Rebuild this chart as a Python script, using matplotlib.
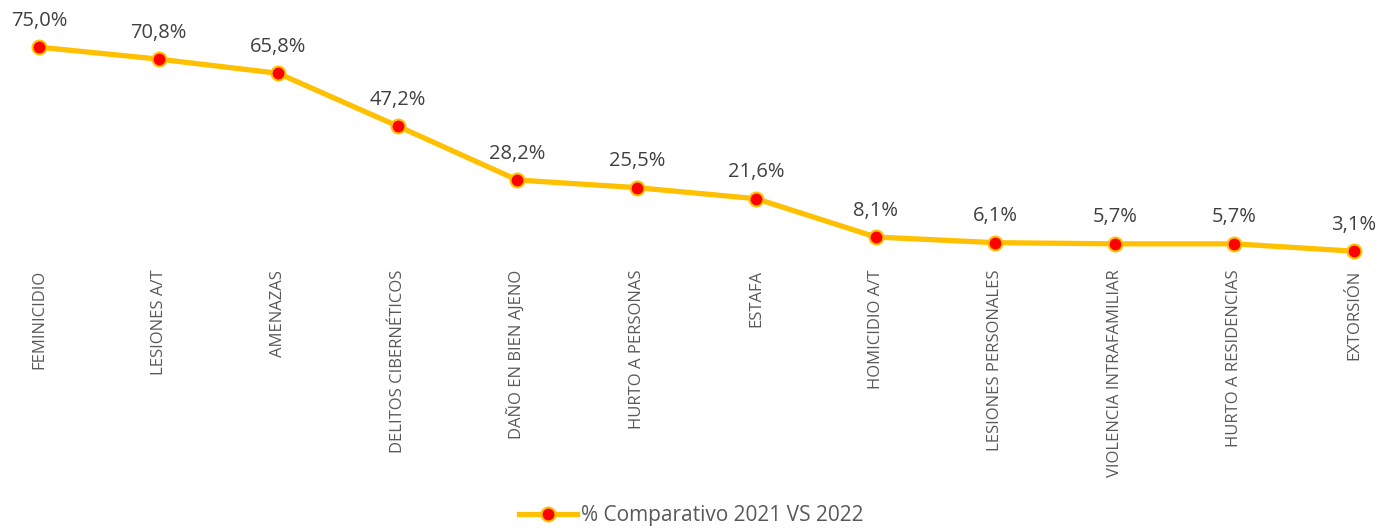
import matplotlib.pyplot as plt

categories = ['FEMINICIDIO', 'LESIONES A/T', 'AMENAZAS', 'DELITOS CIBERNÉTICOS',
              'DAÑO EN BIEN AJENO', 'HURTO A PERSONAS', 'ESTAFA', 'HOMICIDIO A/T',
              'LESIONES PERSONALES', 'VIOLENCIA INTRAFAMILIAR', 'HURTO A RESIDENCIAS',
              'EXTORSIÓN']
values = [75.0, 70.8, 65.8, 47.2, 28.2, 25.5, 21.6, 8.1, 6.1, 5.7, 5.7, 3.1]
series_name = '% Comparativo 2021 VS 2022'

plt.rcParams['font.family'] = ['Open Sans', 'DejaVu Sans']

W, H = 1382, 529
fig = plt.figure(figsize=(W / 100, H / 100), dpi=100)
ax = fig.add_axes([39 / W, (H - 260) / H, (1354 - 39) / W, (260 - 33) / H])

x = list(range(len(categories)))
line, = ax.plot(x, values, color='#FFC000', lw=3.8, marker='o', ms=10,
                mfc='#FF0000', mec='#FFC000', mew=1.5, clip_on=False,
                label=series_name, zorder=3)

for xi, v in zip(x, values):
    ax.annotate(f'{v:.1f}%'.replace('.', ','), (xi, v), xytext=(0, 19),
                textcoords='offset points', ha='center', va='center',
                fontsize=14.5, color='#404040')

ax.set_xlim(0, len(categories) - 1)
ax.set_ylim(0, 80)
ax.set_xticks(x)
ax.set_xticklabels(categories, rotation=90, fontsize=12, color='#595959',
                   va='top', ha='center')
ax.tick_params(axis='x', length=0, pad=7)
ax.set_yticks([])
for s in ax.spines.values():
    s.set_visible(False)

fig.legend(handles=[line], loc='lower center', bbox_to_anchor=(0.5, -0.03),
           frameon=False, fontsize=15, labelcolor='#595959',
           handlelength=2.8, handletextpad=0.2)

fig.savefig('out.png', dpi=100)
